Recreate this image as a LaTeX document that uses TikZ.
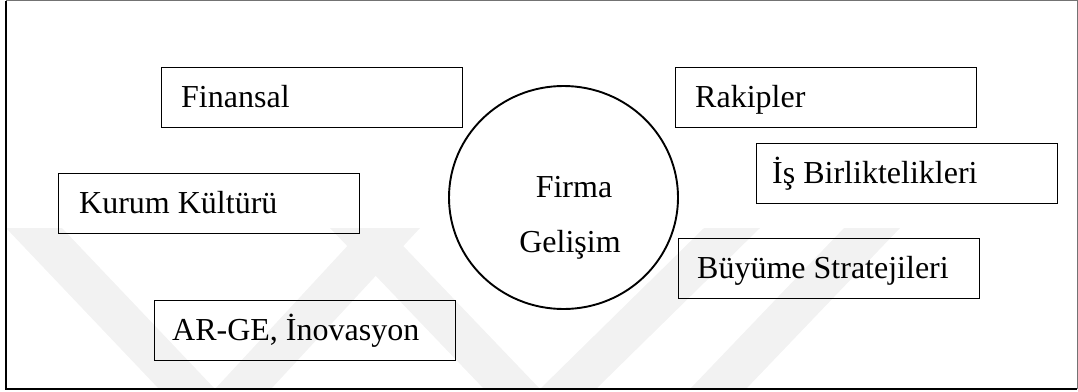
\documentclass[tikz,border=0pt]{standalone}
\usepackage{fontspec}
\setmainfont{Liberation Serif}
\usetikzlibrary{shapes.geometric}
\begin{document}
\begin{tikzpicture}[x=1pt,y=-1pt,
  box/.style={draw=black, line width=1.1pt, minimum width=301pt, minimum height=60pt, anchor=north west, inner sep=0pt},
  lbl/.style={font=\fontsize{32}{32}\selectfont, anchor=base west, inner sep=0pt},
  clbl/.style={font=\fontsize{32}{32}\selectfont, anchor=base, inner sep=0pt},
  wm/.style={fill=black!5, draw=none}]
\useasboundingbox (0,0) rectangle (1078,391);
% faint watermark
\fill[wm] (6,228) -- (62,228) -- (215,389) -- (159,389) -- cycle;
\fill[wm] (215,389) -- (271,389) -- (420,228) -- (364,228) -- cycle;
\fill[wm] (330,228) -- (386,228) -- (540,389) -- (484,389) -- cycle;
\fill[wm] (540,389) -- (596,389) -- (760,228) -- (704,228) -- cycle;
\fill[wm] (690,389) -- (746,389) -- (900,228) -- (844,228) -- cycle;
% frame
\coordinate (tl) at (6,0.5);
\coordinate (tr) at (1077,0.5);
\coordinate (br) at (1077,389);
\coordinate (bl) at (6,389);
\draw[black!55, line width=0.8pt] (tl) -- (tr) -- (br);
\draw[black, line width=2.4pt] (tl) -- (bl) -- (br);
% circle
\node[draw, ellipse, line width=1.9pt, minimum width=229pt, minimum height=223pt, inner sep=0pt] (c) at (563.5,197.5) {};
\node[clbl] (c1) at (574,197) {Firma};
\node[clbl] (c2) at (570,252) {Gelişim};
% boxes
\node[box] (fin) at (161,67) {};
\node[lbl] (fint) at ([shift={(20,10)}]fin.west) {Finansal};
\node[box] (rak) at (675,67) {};
\node[lbl] (rakt) at ([shift={(20,10)}]rak.west) {Rakipler};
\node[box] (isb) at (756,143) {};
\node[lbl] (isbt) at ([shift={(16,10)}]isb.west) {İş Birliktelikleri};
\node[box] (kur) at (58,173) {};
\node[lbl] (kurt) at ([shift={(21,10)}]kur.west) {Kurum Kültürü};
\node[box] (buy) at (678,238) {};
\node[lbl] (buyt) at ([shift={(19,10)}]buy.west) {Büyüme Stratejileri};
\node[box] (arg) at (154,300) {};
\node[lbl] (argt) at ([shift={(18,10)}]arg.west) {AR-GE, İnovasyon};
\end{tikzpicture}
\end{document}
